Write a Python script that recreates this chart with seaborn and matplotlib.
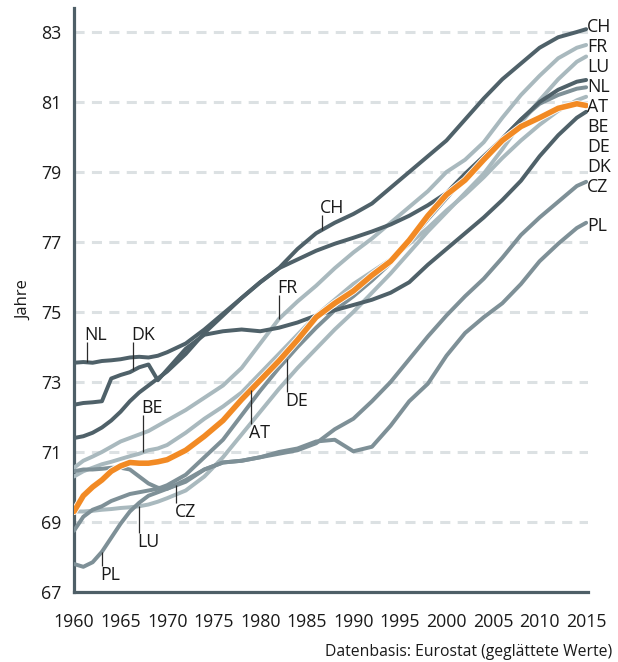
import numpy as np
import pandas as pd
import matplotlib
matplotlib.use("Agg")
import matplotlib.pyplot as plt
import matplotlib.patheffects as pe
from matplotlib import transforms
import seaborn as sns

# --- data: life expectancy at birth (years), smoothed ---
years = list(range(1960, 1971)) + list(range(1972, 2015, 2)) + [2015]

CH = [71.40, 71.45, 71.55, 71.70, 71.90, 72.15, 72.45, 72.70, 72.90, 73.10, 73.30,
      73.80, 74.40, 74.90, 75.40, 75.85, 76.25, 76.80, 77.25, 77.55, 77.80, 78.10,
      78.55, 79.00, 79.45, 79.90, 80.50, 81.10, 81.65, 82.10, 82.55, 82.85, 83.00, 83.08]
FR = [70.55, 70.75, 70.87, 71.00, 71.15, 71.30, 71.40, 71.50, 71.60, 71.75, 71.90,
      72.20, 72.55, 72.90, 73.40, 74.10, 74.80, 75.30, 75.75, 76.25, 76.70, 77.10,
      77.55, 78.00, 78.45, 79.00, 79.35, 79.85, 80.55, 81.20, 81.75, 82.25, 82.55, 82.63]
LU = [69.30, 69.30, 69.32, 69.35, 69.37, 69.40, 69.42, 69.45, 69.50, 69.58, 69.68,
      69.90, 70.30, 70.85, 71.50, 72.15, 72.80, 73.40, 73.95, 74.50, 75.00, 75.55,
      76.10, 76.70, 77.30, 77.85, 78.40, 78.95, 79.65, 80.40, 81.05, 81.65, 82.15, 82.30]
NL = [73.55, 73.57, 73.55, 73.60, 73.62, 73.65, 73.70, 73.72, 73.70, 73.75, 73.85,
      74.10, 74.50, 74.95, 75.40, 75.85, 76.25, 76.50, 76.75, 76.95, 77.12, 77.30,
      77.50, 77.75, 78.05, 78.40, 78.95, 79.45, 79.95, 80.50, 81.00, 81.35, 81.58, 81.63]
AT = [69.30, 69.75, 70.00, 70.20, 70.45, 70.60, 70.70, 70.68, 70.68, 70.72, 70.78,
      71.05, 71.45, 71.90, 72.50, 73.05, 73.60, 74.20, 74.85, 75.25, 75.60, 76.05,
      76.45, 77.05, 77.75, 78.35, 78.77, 79.35, 79.90, 80.30, 80.55, 80.82, 80.95, 80.90]
BE = [70.30, 70.45, 70.55, 70.65, 70.72, 70.80, 70.88, 70.95, 71.05, 71.10, 71.20,
      71.55, 71.95, 72.30, 72.70, 73.25, 73.80, 74.35, 74.90, 75.35, 75.80, 76.15,
      76.50, 76.95, 77.40, 77.90, 78.35, 78.85, 79.40, 79.90, 80.35, 80.75, 81.05, 81.15]
DE = [68.75, 69.15, 69.35, 69.45, 69.60, 69.70, 69.80, 69.85, 69.90, 69.95, 70.05,
      70.35, 70.85, 71.35, 72.05, 72.75, 73.40, 74.00, 74.55, 75.05, 75.45, 75.90,
      76.40, 77.00, 77.65, 78.25, 78.85, 79.40, 79.95, 80.50, 80.95, 81.20, 81.38, 81.42]
DK = [72.35, 72.40, 72.42, 72.45, 73.10, 73.20, 73.28, 73.42, 73.50, 73.05, 73.35,
      73.95, 74.35, 74.45, 74.50, 74.45, 74.55, 74.70, 74.90, 75.05, 75.20, 75.35,
      75.55, 75.85, 76.35, 76.80, 77.25, 77.70, 78.20, 78.75, 79.45, 80.05, 80.55, 80.72]
CZ = [70.45, 70.50, 70.50, 70.52, 70.55, 70.55, 70.50, 70.30, 70.10, 69.98, 69.95,
      70.15, 70.50, 70.70, 70.75, 70.85, 70.95, 71.05, 71.25, 71.65, 71.95, 72.45,
      73.00, 73.65, 74.30, 74.90, 75.45, 75.95, 76.55, 77.20, 77.70, 78.15, 78.60, 78.72]
PL = [67.80, 67.72, 67.85, 68.15, 68.55, 68.95, 69.30, 69.55, 69.75, 69.85, 69.95,
      70.20, 70.50, 70.70, 70.75, 70.85, 71.00, 71.10, 71.30, 71.35, 71.02, 71.15,
      71.75, 72.45, 72.95, 73.75, 74.40, 74.85, 75.25, 75.80, 76.45, 76.95, 77.40, 77.55]

series = {"CH": CH, "FR": FR, "LU": LU, "NL": NL, "AT": AT,
          "BE": BE, "DE": DE, "DK": DK, "CZ": CZ, "PL": PL}

# right-hand labels (top to bottom) and their stacked positions
end_labels = ["CH", "FR", "LU", "NL", "AT", "BE", "DE", "DK", "CZ", "PL"]
end_label_y = [83.14, 82.57, 82.00, 81.43, 80.86, 80.29, 79.71, 79.14, 78.57, 77.46]

# inline labels: country, year of the leader, text anchor value, side
inline_labels = [
    ("NL", 1961.35, 74.14, "above"),
    ("DK", 1966.35, 74.14, "above"),
    ("BE", 1967.40, 72.06, "above"),
    ("FR", 1982.05, 75.49, "above"),
    ("CH", 1986.60, 77.77, "above"),
    ("LU", 1967.00, 68.69, "below"),
    ("PL", 1963.00, 67.74, "below"),
    ("CZ", 1971.00, 69.54, "below"),
    ("AT", 1979.00, 71.80, "below"),
    ("DE", 1982.90, 72.71, "below"),
]

yticks = list(range(67, 84, 2))
xticks = list(range(1960, 2016, 5))

# --- styling ---
DARK = "#4f6169"
MID = "#7e9097"
LIGHT = "#a9b9be"
ORANGE = "#f28a24"
AXIS = "#4e5f67"
GRID = "#dce1e3"
TEXT = "#1a1a1a"

colors = {"CH": DARK, "NL": DARK, "DK": DARK,
          "DE": MID, "CZ": MID, "PL": MID,
          "FR": LIGHT, "LU": LIGHT, "BE": LIGHT,
          "AT": ORANGE}
draw_order = ["FR", "LU", "BE", "DE", "CZ", "PL", "CH", "NL", "DK", "AT"]

sns.set_style("white")
plt.rcParams["font.family"] = ["Open Sans", "DejaVu Sans"]

df = pd.concat(
    [pd.DataFrame({"Jahr": years, "Lebenserwartung": vals, "Land": land})
     for land, vals in series.items()],
    ignore_index=True,
)

fig = plt.figure(figsize=(6.18, 6.62), dpi=100)
ax = fig.add_axes([74 / 618, 70 / 662, 514 / 618, 584 / 662])

for land in draw_order:
    sub = df[df["Land"] == land]
    is_at = land == "AT"
    sns.lineplot(
        data=sub, x="Jahr", y="Lebenserwartung", ax=ax,
        color=colors[land], linewidth=4.0 if is_at else 2.85,
        estimator=None, sort=False, legend=False,
        zorder=5 if is_at else 3, solid_joinstyle="round",
    )
    if is_at:
        ax.lines[-1].set_path_effects(
            [pe.Stroke(linewidth=5.2, foreground="white"), pe.Normal()])

ax.set_xlim(1960, 2015.2)
ax.set_ylim(67, 83 + 24 / 35)
ax.set_xticks(xticks)
ax.set_yticks(yticks)
ax.set_xlabel("")
ax.set_ylabel("Jahre", fontsize=12, color=TEXT)
ax.yaxis.set_label_coords(-0.081, 0.5)

ax.yaxis.grid(True, linestyle=(0, (3.3, 2.4)), color=GRID, linewidth=2.2)
ax.xaxis.grid(False)
ax.set_axisbelow(True)

for side in ["top", "right"]:
    ax.spines[side].set_visible(False)
for side in ["left", "bottom"]:
    ax.spines[side].set_color(AXIS)
    ax.spines[side].set_linewidth(2.3)

ax.tick_params(axis="both", which="major", direction="out", length=5,
               width=2.3, color=AXIS, labelsize=12.8, labelcolor=TEXT)
ax.tick_params(axis="y", pad=4)
ax.tick_params(axis="x", pad=10)

# labels at the right end of the lines
for name, yv in zip(end_labels, end_label_y):
    ax.text(2015.12, yv, name, ha="left", va="center", fontsize=12.8,
            color=TEXT, clip_on=False)

# inline labels with leader lines
above_tr = transforms.offset_copy(ax.transData, fig=fig, x=-2, y=2, units="dots")
below_tr = transforms.offset_copy(ax.transData, fig=fig, x=-2, y=0, units="dots")
for name, yr, ty, side in inline_labels:
    lv = float(np.interp(yr, years, series[name]))
    ax.plot([yr, yr], [lv, ty], color="#2b2b2b", linewidth=0.9, zorder=6,
            solid_capstyle="butt")
    if side == "above":
        ax.text(yr, ty, name, ha="left", va="baseline", fontsize=12.8,
                color=TEXT, transform=above_tr, zorder=7)
    else:
        ax.text(yr, ty, name, ha="left", va="top", fontsize=12.8,
                color=TEXT, transform=below_tr, zorder=7)

fig.text(612 / 618, 1 - 652 / 662, "Datenbasis: Eurostat (geglättete Werte)",
         ha="right", va="center", fontsize=11.3, color=TEXT)

fig.savefig("out.png", dpi=100)
